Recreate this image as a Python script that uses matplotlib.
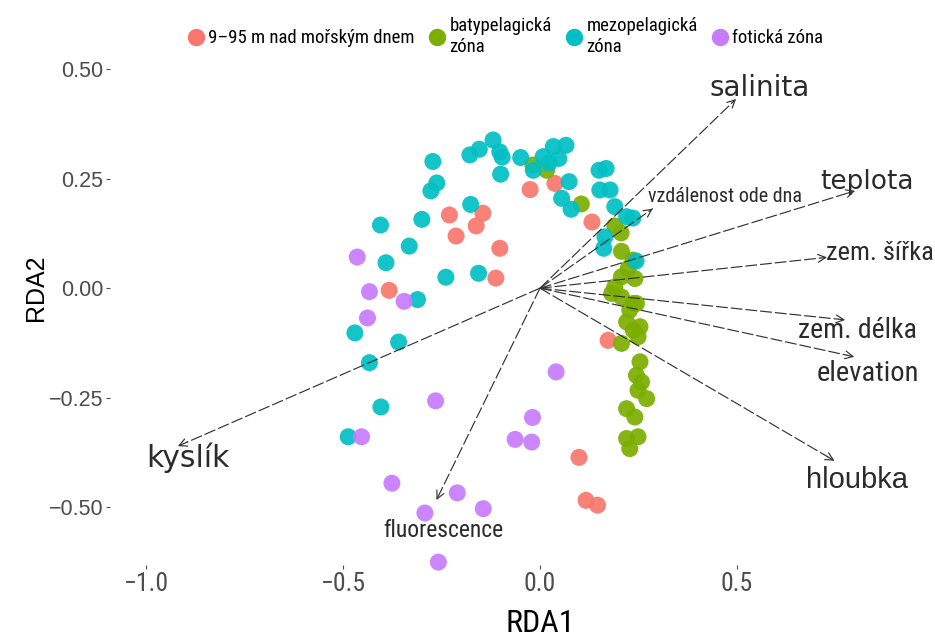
import matplotlib
matplotlib.use("Agg")
import matplotlib.pyplot as plt
from matplotlib.lines import Line2D
from matplotlib import font_manager
from matplotlib.font_manager import FontProperties

# look for a narrow / condensed regular face, else plain Liberation Sans
narrow_path = None
for key in ("LiberationSansNarrow-Regular", "RobotoCondensed-Regular", "DejaVuSansCondensed.ttf"):
    for f in font_manager.fontManager.ttflist:
        if key in f.fname:
            narrow_path = f.fname
            break
    if narrow_path:
        break


def font(kind, size):
    if kind == "narrow" and narrow_path:
        return FontProperties(fname=narrow_path, size=size)
    if kind == "wide":
        return FontProperties(family="DejaVu Sans", size=size)
    return FontProperties(family="Liberation Sans", size=size)


# groups
groups = ["9\u201395 m nad mořským dnem", "batypelagická\nzóna", "mezopelagická\nzóna", "fotická zóna"]
colors = ["#F8766D", "#7CAE00", "#00BFC4", "#C77CFF"]

# sample scores (RDA1, RDA2)
red_x = [-0.230, -0.145, -0.162, -0.213, -0.102, -0.112, -0.383, -0.025, 0.038, 0.132, 0.173, 0.099, 0.117, 0.146]
red_y = [0.167, 0.171, 0.142, 0.119, 0.091, 0.023, -0.005, 0.225, 0.239, 0.151, -0.119, -0.386, -0.484, -0.495]

green_x = [-0.018, 0.017, 0.105, 0.190, 0.206, 0.207, 0.236, 0.224, 0.207, 0.241, 0.190, 0.182, 0.207, 0.237,
           0.228, 0.245, 0.220, 0.254, 0.249, 0.237, 0.207, 0.254, 0.245, 0.258, 0.249, 0.271, 0.220, 0.241,
           0.220, 0.249, 0.228]
green_y = [0.281, 0.269, 0.192, 0.142, 0.126, 0.084, 0.064, 0.045, 0.026, 0.022, 0.003, -0.012, -0.020, -0.035,
           -0.050, -0.035, -0.077, -0.088, -0.111, -0.096, -0.126, -0.168, -0.199, -0.214, -0.233, -0.252, -0.275,
           -0.294, -0.343, -0.339, -0.366]

teal_x = [-0.272, -0.262, -0.277, -0.178, -0.154, -0.119, -0.102, -0.096, -0.100, -0.049, 0.008, 0.034, 0.066,
          0.048, 0.023, -0.017, 0.074, 0.055, 0.079, 0.150, 0.168, 0.152, 0.178, 0.190, 0.220, 0.236, 0.165,
          0.162, 0.244, -0.176, -0.405, -0.300, -0.332, -0.391, -0.239, -0.156, -0.311, -0.470, -0.359, -0.433,
          -0.404, -0.487]
teal_y = [0.289, 0.240, 0.222, 0.304, 0.317, 0.338, 0.311, 0.299, 0.260, 0.298, 0.300, 0.323, 0.326, 0.296,
          0.285, 0.269, 0.243, 0.205, 0.180, 0.269, 0.273, 0.224, 0.224, 0.186, 0.163, 0.160, 0.117, 0.091,
          0.062, 0.191, 0.144, 0.157, 0.096, 0.058, 0.025, 0.034, -0.026, -0.102, -0.123, -0.170, -0.271, -0.339]

purple_x = [-0.464, -0.433, -0.345, -0.438, -0.453, -0.265, 0.041, -0.019, -0.063, -0.021, -0.376, -0.210,
            -0.292, -0.144, -0.258]
purple_y = [0.071, -0.008, -0.030, -0.068, -0.339, -0.257, -0.191, -0.295, -0.345, -0.351, -0.445, -0.467,
            -0.513, -0.503, -0.625]

# environmental vectors
env_names = ["salinita", "teplota", "zem. šířka", "zem. délka", "elevation", "hloubka",
             "vzdálenost ode dna", "kyslík", "fluorescence"]
env_x = [0.503, 0.807, 0.736, 0.782, 0.805, 0.754, 0.292, -0.926, -0.266]
env_y = [0.436, 0.224, 0.071, -0.073, -0.158, -0.397, 0.185, -0.363, -0.489]
lab_x = [0.558, 0.830, 0.863, 0.805, 0.832, 0.805, 0.470, -0.895, -0.246]
lab_y = [0.457, 0.242, 0.080, -0.096, -0.194, -0.438, 0.208, -0.388, -0.553]
lab_kind = ["wide", "wide", "narrow", "narrow", "narrow", "sans", "narrow", "wide", "narrow"]
if narrow_path:
    lab_size = [20, 19, 19, 20, 20.5, 21, 14.5, 21.5, 17]
else:
    lab_size = [20, 19, 17, 18, 19, 21, 14, 21.5, 15.5]

fig = plt.figure(figsize=(9.35, 6.43), dpi=100)
ax = fig.add_axes([0.118, 0.121, 0.871, 0.801])

xs = [red_x, green_x, teal_x, purple_x]
ys = [red_y, green_y, teal_y, purple_y]
for gx, gy, c in zip(xs, ys, colors):
    ax.scatter(gx, gy, s=150, color=c, alpha=0.92, edgecolors="none", zorder=2, clip_on=False)

for ex, ey, name, lx, ly, kind, fs in zip(env_x, env_y, env_names, lab_x, lab_y, lab_kind, lab_size):
    ax.plot([0, ex * 0.97], [0, ey * 0.97], color="#333333", lw=0.85, ls=(0, (10, 2.5)), zorder=3)
    ax.annotate("", xy=(ex, ey), xytext=(ex * 0.96, ey * 0.96),
                arrowprops=dict(arrowstyle="->", color="#333333", lw=0.85, mutation_scale=14), zorder=3)
    ax.text(lx, ly, name, fontproperties=font(kind, fs), color="#2b2b2b", ha="center", va="center", zorder=4)

ax.set_xlim(-1.091, 0.977)
ax.set_ylim(-0.632, 0.543)
ax.set_xticks([-1.0, -0.5, 0.0, 0.5])
ax.set_xticklabels(["\u22121.0", "\u22120.5", "0.0", "0.5"], fontproperties=font("narrow", 18.5), color="#4D4D4D")
ax.set_yticks([-0.5, -0.25, 0.0, 0.25, 0.5])
ax.set_yticklabels(["\u22120.50", "\u22120.25", "0.00", "0.25", "0.50"], fontproperties=font("sans", 15.5),
                   color="#4D4D4D")
ax.tick_params(length=3, width=0.8, color="#4D4D4D", pad=2)
for sp in ax.spines.values():
    sp.set_visible(False)

ax.set_xlabel("RDA1", fontproperties=font("narrow", 23 if narrow_path else 22))
ax.set_ylabel("RDA2", fontproperties=font("sans", 18))
ax.xaxis.set_label_coords(0.528, -0.085)
ax.yaxis.set_label_coords(-0.076, 0.538)

handles = [Line2D([], [], marker="o", ls="", color=c, markersize=11.5) for c in colors]
fig.legend(handles, groups, loc="upper center", bbox_to_anchor=(0.539, 1.0), ncol=4, frameon=False,
           prop=font("narrow", 13.5 if narrow_path else 12), handletextpad=0.05, columnspacing=0.6,
           handlelength=1.2)

fig.savefig("out.png", dpi=100, facecolor="white")
